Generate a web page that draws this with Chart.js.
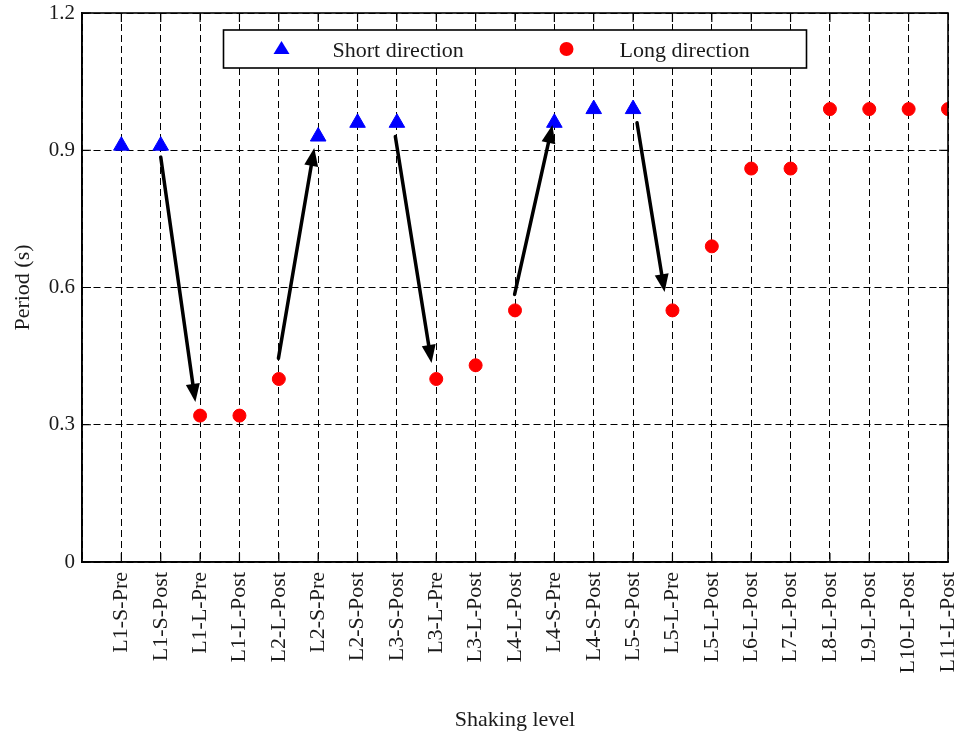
<!DOCTYPE html>
<html>
<head>
<meta charset="utf-8">
<script src="https://cdn.jsdelivr.net/npm/chart.js@4"></script>
<style>
  html, body { margin: 0; padding: 0; background: #fff; }
</style>
</head>
<body>
<canvas id="periodChart" width="958" height="737"></canvas>
<script>
// shaking levels along the x axis (one slot each, at x = 1..22)
const shakingLevels = [
  "L1-S-Pre", "L1-S-Post", "L1-L-Pre", "L1-L-Post", "L2-L-Post", "L2-S-Pre",
  "L2-S-Post", "L3-S-Post", "L3-L-Pre", "L3-L-Post", "L4-L-Post", "L4-S-Pre",
  "L4-S-Post", "L5-S-Post", "L5-L-Pre", "L5-L-Post", "L6-L-Post", "L7-L-Post",
  "L8-L-Post", "L9-L-Post", "L10-L-Post", "L11-L-Post"
];
// periods (s), null where the level belongs to the other direction
const shortPeriods = [0.91, 0.91, null, null, null, 0.93, 0.96, 0.96, null, null, null,
  0.96, 0.99, 0.99, null, null, null, null, null, null, null, null];
const longPeriods = [null, null, 0.32, 0.32, 0.40, null, null, null, 0.40, 0.43, 0.55,
  null, null, null, 0.55, 0.69, 0.86, 0.86, 0.99, 0.99, 0.99, 0.99];
const yTickValues = [0, 0.3, 0.6, 0.9, 1.2];

// arrows (in axis units: x slot, period)
const arrowFromX = [2.0, 4.99, 7.96, 10.99, 14.1];
const arrowFromY = [0.885, 0.445, 0.93, 0.585, 0.96];
const arrowToX = [2.88, 5.9, 8.88, 11.95, 14.8];
const arrowToY = [0.35, 0.905, 0.435, 0.955, 0.59];

const serif = "'Liberation Serif', 'Times New Roman', serif";
const ink = "#1a1a1a";

function toPoints(values) {
  const pts = [];
  values.forEach((v, i) => {
    if (v !== null) pts.push({ x: i + 1, y: v });
  });
  return pts;
}

// arrows, frame, inward ticks, boxed legend
const extrasPlugin = {
  id: "extras",
  afterDatasetsDraw(chart) {
    const ctx = chart.ctx;
    const xs = chart.scales.x;
    const ys = chart.scales.y;
    ctx.save();
    ctx.strokeStyle = "#000";
    ctx.fillStyle = "#000";
    ctx.lineWidth = 3.5;
    ctx.lineCap = "round";
    for (let i = 0; i < arrowFromX.length; i++) {
      const x1 = xs.getPixelForValue(arrowFromX[i]);
      const y1 = ys.getPixelForValue(arrowFromY[i]);
      const x2 = xs.getPixelForValue(arrowToX[i]);
      const y2 = ys.getPixelForValue(arrowToY[i]);
      const ang = Math.atan2(y2 - y1, x2 - x1);
      const headLen = 18, headW = 7;
      const bx = x2 - headLen * Math.cos(ang);
      const by = y2 - headLen * Math.sin(ang);
      ctx.beginPath();
      ctx.moveTo(x1, y1);
      ctx.lineTo(bx, by);
      ctx.stroke();
      ctx.beginPath();
      ctx.moveTo(x2, y2);
      ctx.lineTo(bx + headW * Math.sin(ang), by - headW * Math.cos(ang));
      ctx.lineTo(bx - headW * Math.sin(ang), by + headW * Math.cos(ang));
      ctx.closePath();
      ctx.fill();
    }
    ctx.restore();
  },
  afterDraw(chart) {
    const ctx = chart.ctx;
    const a = chart.chartArea;
    const xs = chart.scales.x;
    const ys = chart.scales.y;
    ctx.save();
    // inward ticks
    ctx.strokeStyle = "#000";
    ctx.lineWidth = 1.2;
    ctx.setLineDash([]);
    const tl = 9;
    for (let i = 1; i < shakingLevels.length; i++) {
      const px = xs.getPixelForValue(i);
      ctx.beginPath();
      ctx.moveTo(px, a.bottom); ctx.lineTo(px, a.bottom - tl);
      ctx.moveTo(px, a.top); ctx.lineTo(px, a.top + tl);
      ctx.stroke();
    }
    yTickValues.forEach(v => {
      const py = ys.getPixelForValue(v);
      ctx.beginPath();
      ctx.moveTo(a.left, py); ctx.lineTo(a.left + tl, py);
      ctx.moveTo(a.right, py); ctx.lineTo(a.right - tl, py);
      ctx.stroke();
    });
    // frame
    ctx.lineWidth = 1.6;
    ctx.strokeRect(a.left, a.top, a.right - a.left, a.bottom - a.top);

    // legend box
    const boxW = 583, boxH = 38;
    const bx = (a.left + a.right) / 2 - boxW / 2;
    const by = a.top + 17;
    ctx.fillStyle = "#fff";
    ctx.fillRect(bx, by, boxW, boxH);
    ctx.lineWidth = 1.6;
    ctx.strokeStyle = "#000";
    ctx.strokeRect(bx, by, boxW, boxH);
    const my = by + boxH / 2;
    const ds = chart.data.datasets;
    // triangle
    ctx.fillStyle = ds[0].backgroundColor;
    ctx.beginPath();
    ctx.moveTo(bx + 58, my - 8);
    ctx.lineTo(bx + 58 + 8, my + 5);
    ctx.lineTo(bx + 58 - 8, my + 5);
    ctx.closePath();
    ctx.fill();
    // circle
    ctx.fillStyle = ds[1].backgroundColor;
    ctx.beginPath();
    ctx.arc(bx + 343, my, 7, 0, Math.PI * 2);
    ctx.fill();
    ctx.fillStyle = ink;
    ctx.font = "22px " + serif;
    ctx.textBaseline = "middle";
    ctx.textAlign = "left";
    ctx.fillText(ds[0].label, bx + 109, my + 2);
    ctx.fillText(ds[1].label, bx + 396, my + 2);
    ctx.restore();
  }
};

const ctx = document.getElementById("periodChart").getContext("2d");
new Chart(ctx, {
  type: "scatter",
  data: {
    datasets: [
      {
        label: "Short direction",
        data: toPoints(shortPeriods),
        pointStyle: "triangle",
        pointRadius: 9,
        backgroundColor: "#0000ff",
        borderColor: "#0000ff",
        borderWidth: 1
      },
      {
        label: "Long direction",
        data: toPoints(longPeriods),
        pointStyle: "circle",
        pointRadius: 6.5,
        backgroundColor: "#ff0000",
        borderColor: "#ff0000",
        borderWidth: 1
      }
    ]
  },
  options: {
    responsive: false,
    animation: false,
    layout: { padding: { top: 13, right: 10, left: 0, bottom: 0 } },
    plugins: {
      legend: { display: false },
      tooltip: { enabled: false }
    },
    scales: {
      x: {
        type: "linear",
        min: 0,
        max: shakingLevels.length,
        afterFit: (s) => {
          s.height = 175;
          s.paddingLeft = 0;
          s.paddingRight = 0;
        },
        ticks: {
          stepSize: 1,
          maxTicksLimit: 40,
          autoSkip: false,
          maxRotation: 90,
          minRotation: 90,
          padding: 10,
          color: ink,
          font: { family: serif, size: 22 },
          callback: (v) => shakingLevels[v - 1] || ""
        },
        grid: { color: "#000", lineWidth: 1, drawTicks: false },
        border: { display: true, color: "#000", width: 1.5, dash: [7, 4] },
        title: {
          display: true,
          text: "Shaking level",
          color: ink,
          font: { family: serif, size: 22 },
          padding: { top: 0, bottom: 4 }
        }
      },
      y: {
        min: 0,
        max: 1.2,
        afterFit: (s) => {
          s.width = 82;
          s.paddingTop = 0;
          s.paddingBottom = 0;
        },
        afterBuildTicks: (s) => { s.ticks = yTickValues.map(v => ({ value: v })); },
        ticks: {
          padding: 7,
          color: ink,
          font: { family: serif, size: 21 },
          callback: (v) => (v === 0 ? "0" : v.toFixed(1))
        },
        grid: { color: "#000", lineWidth: 1, drawTicks: false },
        border: { display: true, color: "#000", width: 1.5, dash: [7, 4] },
        title: {
          display: true,
          text: "Period (s)",
          color: ink,
          font: { family: serif, size: 22 },
          padding: { top: 10, bottom: 0 }
        }
      }
    }
  },
  plugins: [extrasPlugin]
});
</script>
</body>
</html>
